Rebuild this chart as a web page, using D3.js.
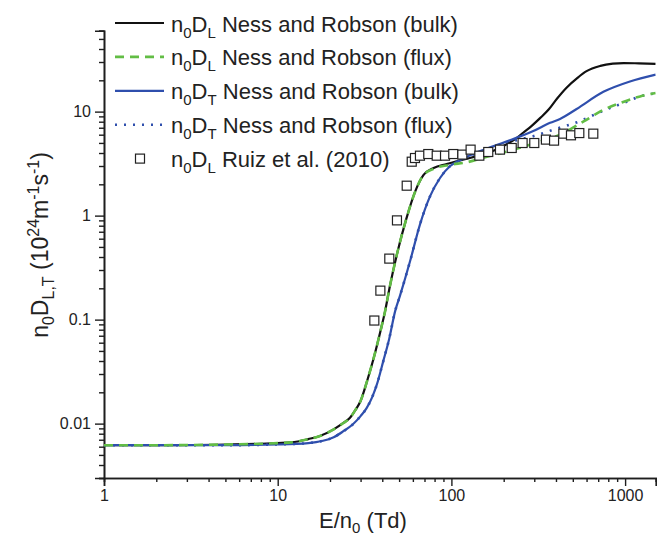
<!DOCTYPE html>
<html>
<head>
<meta charset="utf-8">
<script src="https://cdn.jsdelivr.net/npm/d3@7"></script>
<style>
  html, body { margin: 0; padding: 0; background: #fff; }
  svg { display: block; font-family: "Liberation Sans", Arial, sans-serif; }
</style>
</head>
<body>
<svg id="chart" width="662" height="537"></svg>
<script>
// Longitudinal diffusion, bulk (Ness and Robson)
const eLBulk = [1, 2, 5, 8, 10, 12, 15, 17.5, 21, 24, 26, 28, 30, 33, 36, 39, 41.5, 44, 48.5, 55, 62, 69, 79, 94, 107, 125, 153, 180, 208, 235, 260, 290, 325, 365, 405, 460, 530, 600, 720, 850, 980, 1200, 1500];
const dLBulk = [0.0062, 0.0062, 0.0063, 0.0064, 0.0065, 0.0066, 0.0071, 0.0076, 0.0088, 0.0102, 0.0113, 0.0135, 0.0165, 0.027, 0.045, 0.077, 0.12, 0.2, 0.42, 0.93, 1.72, 2.45, 2.87, 3.13, 3.33, 3.55, 3.9, 4.3, 4.85, 5.5, 6.3, 7.3, 8.7, 10.6, 13.3, 17, 21, 24.5, 27.5, 28.9, 29.3, 29.1, 28.8];

// Longitudinal diffusion, flux (Ness and Robson)
const eLFlux = [1, 2, 5, 8, 10, 12, 15, 17.5, 21, 24, 26, 28, 30, 33, 36, 39, 41.5, 44, 48.5, 55, 62, 69, 79, 98, 122, 160, 227, 324, 422, 574, 750, 935, 1220, 1500];
const dLFlux = [0.0062, 0.0062, 0.0063, 0.0064, 0.0065, 0.0066, 0.0071, 0.0076, 0.0088, 0.0102, 0.0113, 0.0135, 0.0165, 0.027, 0.045, 0.077, 0.12, 0.2, 0.42, 0.93, 1.72, 2.45, 2.82, 3.08, 3.25, 3.68, 4.3, 5.15, 6.0, 8.0, 10.4, 12.1, 14.0, 15.1];

// Transverse diffusion, bulk (Ness and Robson)
const eTBulk = [1, 5, 10, 15, 18, 21, 24, 27, 30, 32.5, 35, 37.2, 40.5, 43.9, 47.4, 50.6, 57.8, 65.9, 75.3, 86, 98, 112, 130, 160, 217, 296, 370, 422, 526, 750, 1067, 1500];
const dTBulk = [0.0062, 0.0062, 0.0063, 0.0065, 0.0068, 0.0074, 0.0085, 0.0098, 0.0118, 0.0141, 0.018, 0.0237, 0.0397, 0.066, 0.12, 0.17, 0.364, 0.82, 1.53, 2.3, 2.98, 3.4, 3.85, 4.4, 5.3, 6.5, 7.8, 8.5, 10.6, 15.5, 19.5, 22.7];

// Transverse diffusion, flux (Ness and Robson)
const eTFlux = [1, 5, 10, 15, 18, 21, 24, 27, 30, 32.5, 35, 37.2, 40.5, 43.9, 47.4, 50.6, 57.8, 65.9, 75.3, 86, 98, 112, 130, 160, 217, 296, 386, 550, 717, 977, 1274, 1500];
const dTFlux = [0.0062, 0.0062, 0.0063, 0.0065, 0.0068, 0.0074, 0.0085, 0.0098, 0.0118, 0.0141, 0.018, 0.0237, 0.0397, 0.066, 0.12, 0.17, 0.364, 0.82, 1.53, 2.3, 2.98, 3.4, 3.8, 4.25, 5.1, 5.8, 6.7, 8.1, 9.9, 12.1, 14.3, 15.0];

// Measured longitudinal diffusion (Ruiz et al. 2010)
const eRuiz = [36, 39, 43.9, 48.6, 55.3, 59.1, 61.7, 65.9, 73.6, 82.3, 91.9, 102.5, 115.6, 129, 144.8, 163, 190.4, 222.5, 257, 300, 350, 390, 441, 488, 545, 656];
const dRuiz = [0.098, 0.19, 0.386, 0.9, 1.94, 3.3, 3.58, 3.77, 3.91, 3.77, 3.77, 3.91, 3.86, 4.31, 3.77, 4.09, 4.31, 4.47, 4.99, 4.99, 5.38, 5.26, 6.14, 5.92, 6.22, 6.14];

// Axis ticks
const xMajor = [1, 10, 100, 1000];
const xLabels = ["1", "10", "100", "1000"];
const yMajor = [0.01, 0.1, 1, 10];
const yLabels = ["0.01", "0.1", "1", "10"];

const svg = d3.select("#chart");
const left = 104, bottom = 478;
const x = d3.scaleLog().domain([1, 1500]).range([left, left + 173.7 * Math.log10(1500)]);
const y = d3.scaleLog().domain([0.003, 60]).range([bottom, bottom - 104 * Math.log10(60 / 0.003)]);

const axisColor = "#1e1e1e";
const black = "#111111", green = "#62bd45", blue = "#2f4fad";

svg.append("defs").append("clipPath").attr("id", "plotClip")
  .append("rect")
  .attr("x", x.range()[0]).attr("y", y.range()[1])
  .attr("width", x.range()[1] - x.range()[0])
  .attr("height", y.range()[0] - y.range()[1]);

// minor ticks
const xMinor = [];
for (let d = 1; d <= 1000; d *= 10) for (let k = 2; k <= 9; k++) if (d * k <= 1500) xMinor.push(d * k);
const yMinor = [];
for (let d = 0.001; d <= 10.5; d *= 10) for (let k = 2; k <= 9; k++) { const v = d * k; if (v >= 0.003 && v <= 60) yMinor.push(v); }

const xAxisMinor = d3.axisBottom(x).tickValues(xMinor).tickSize(4).tickFormat("");
const xAxisMajor = d3.axisBottom(x).tickValues(xMajor).tickSize(8).tickPadding(4)
  .tickFormat((d, i) => xLabels[i]);
const yAxisMinor = d3.axisLeft(y).tickValues(yMinor).tickSize(5).tickFormat("");
const yAxisMajor = d3.axisLeft(y).tickValues(yMajor).tickSize(9).tickPadding(4)
  .tickFormat((d, i) => yLabels[i]);

function styleAxis(g) {
  g.select(".domain").attr("stroke", axisColor).attr("stroke-width", 1.6);
  g.selectAll(".tick line").attr("stroke", axisColor).attr("stroke-width", 1.4);
  g.selectAll(".tick text").attr("fill", "#222").attr("font-size", 16)
    .attr("font-family", "Liberation Sans, Arial, sans-serif");
}

svg.append("g").attr("transform", `translate(0,${bottom})`).call(xAxisMinor).call(styleAxis);
svg.append("g").attr("transform", `translate(0,${bottom})`).call(xAxisMajor).call(styleAxis);
svg.append("g").attr("transform", `translate(${left},0)`).call(yAxisMinor).call(styleAxis);
svg.append("g").attr("transform", `translate(${left},0)`).call(yAxisMajor).call(styleAxis);

// curves
const line = d3.line().x(d => x(d[0])).y(d => y(d[1])).curve(d3.curveMonotoneX);
const plot = svg.append("g").attr("clip-path", "url(#plotClip)");
const zipSeries = (es, ds) => es.map((e, i) => [e, ds[i]]);

const series = [
  { e: eLBulk, d: dLBulk, color: black, width: 2.2, dash: null },
  { e: eTBulk, d: dTBulk, color: blue, width: 2.2, dash: null },
  { e: eTFlux, d: dTFlux, color: blue, width: 2.6, dash: "2,7" },
  { e: eLFlux, d: dLFlux, color: green, width: 2.6, dash: "9,6" }
];
series.forEach(s => {
  plot.append("path")
    .datum(zipSeries(s.e, s.d))
    .attr("fill", "none")
    .attr("stroke", s.color)
    .attr("stroke-width", s.width)
    .attr("stroke-dasharray", s.dash)
    .attr("d", line);
});

// measured points
plot.selectAll("rect.pt")
  .data(zipSeries(eRuiz, dRuiz))
  .join("rect")
  .attr("class", "pt")
  .attr("x", d => x(d[0]) - 4.5)
  .attr("y", d => y(d[1]) - 4.5)
  .attr("width", 9).attr("height", 9)
  .attr("fill", "#fff")
  .attr("stroke", "#222")
  .attr("stroke-width", 1.2);

// legend
const legendItems = [
  { sub: "L", label: " Ness and Robson (bulk)", color: black, width: 2.2, dash: null, marker: false },
  { sub: "L", label: " Ness and Robson (flux)", color: green, width: 2.6, dash: "9,6", marker: false },
  { sub: "T", label: " Ness and Robson (bulk)", color: blue, width: 2.2, dash: null, marker: false },
  { sub: "T", label: " Ness and Robson (flux)", color: blue, width: 2.6, dash: "2,7", marker: false },
  { sub: "L", label: " Ruiz et al. (2010)", color: "#222", width: 1.2, dash: null, marker: true }
];
const legend = svg.append("g");
legendItems.forEach((it, i) => {
  const cy = 23 + i * 33.9;
  if (it.marker) {
    legend.append("rect").attr("x", 140 - 4.5).attr("y", cy - 4.5).attr("width", 9).attr("height", 9)
      .attr("fill", "#fff").attr("stroke", it.color).attr("stroke-width", it.width);
  } else {
    legend.append("line").attr("x1", 115).attr("x2", 164).attr("y1", cy).attr("y2", cy)
      .attr("stroke", it.color).attr("stroke-width", it.width).attr("stroke-dasharray", it.dash);
  }
  const t = legend.append("text").attr("x", 171).attr("y", cy + 8.5)
    .attr("font-size", 22).attr("fill", "#222");
  t.append("tspan").text("n");
  t.append("tspan").attr("font-size", 15).attr("dy", 6).text("0");
  t.append("tspan").attr("dy", -6).text("D");
  t.append("tspan").attr("font-size", 15).attr("dy", 6).text(it.sub);
  t.append("tspan").attr("dy", -6).text(it.label);
});

// axis titles
const xt = svg.append("text").attr("x", 363).attr("y", 528).attr("text-anchor", "middle")
  .attr("font-size", 22).attr("fill", "#222");
xt.append("tspan").text("E/n");
xt.append("tspan").attr("font-size", 15).attr("dy", 5).text("0");
xt.append("tspan").attr("dy", -5).text(" (Td)");

const yt = svg.append("text").attr("transform", "translate(48,245) rotate(-90)")
  .attr("text-anchor", "middle").attr("font-size", 23).attr("fill", "#222");
yt.append("tspan").text("n");
yt.append("tspan").attr("font-size", 16).attr("dy", 6).text("0");
yt.append("tspan").attr("dy", -6).text("D");
yt.append("tspan").attr("font-size", 16).attr("dy", 6).text("L,T");
yt.append("tspan").attr("dy", -6).text(" (10");
yt.append("tspan").attr("font-size", 16).attr("dy", -9).text("24");
yt.append("tspan").attr("dy", 9).text("m");
yt.append("tspan").attr("font-size", 16).attr("dy", -9).text("-1");
yt.append("tspan").attr("dy", 9).text("s");
yt.append("tspan").attr("font-size", 16).attr("dy", -9).text("-1");
yt.append("tspan").attr("dy", 9).text(")");
</script>
</body>
</html>
